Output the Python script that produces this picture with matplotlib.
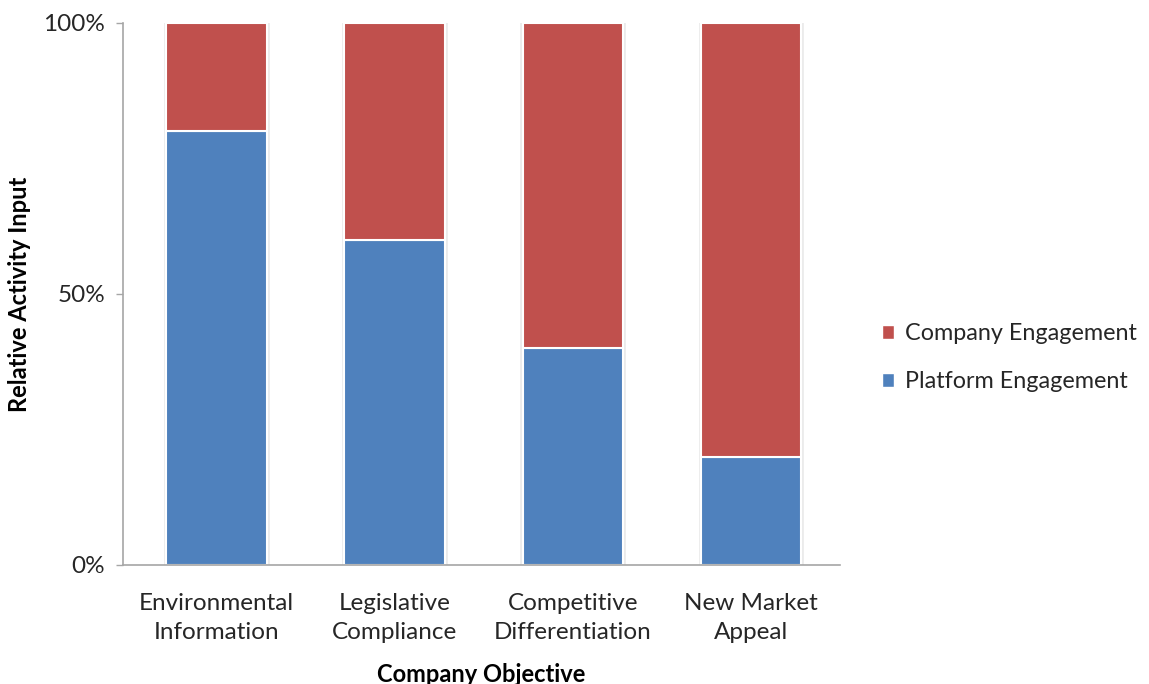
import matplotlib
matplotlib.use("Agg")
import matplotlib.pyplot as plt
from matplotlib.ticker import FixedLocator, FuncFormatter
from matplotlib.patches import Patch

plt.rcParams['font.family'] = ['Lato', 'DejaVu Sans']

categories = ["Environmental\nInformation", "Legislative\nCompliance",
              "Competitive\nDifferentiation", "New Market\nAppeal"]
platform = [80, 60, 40, 20]
company = [20, 40, 60, 80]

blue = "#4F81BD"
red = "#C0504D"
axis_grey = "#A6A6A6"
text_col = "#262626"

fig = plt.figure(figsize=(11.49, 6.84), dpi=100)
ax = fig.add_axes([0.1071, 0.174, 0.624, 0.7924])

x = list(range(len(categories)))
totals = [p + c for p, c in zip(platform, company)]
platform_pct = [p / t * 100 for p, t in zip(platform, totals)]
company_pct = [c / t * 100 for c, t in zip(company, totals)]

width = 0.565
# soft shadow behind each stacked column
ax.bar(x, [p + c for p, c in zip(platform_pct, company_pct)], width=width + 0.012,
       color="none", edgecolor="#EBEBEB", linewidth=2.0, zorder=1)
ax.bar(x, platform_pct, width=width, color=blue, edgecolor="white",
       linewidth=1.5, zorder=2, label="Platform Engagement")
ax.bar(x, company_pct, width=width, bottom=platform_pct, color=red,
       edgecolor="white", linewidth=1.5, zorder=2, label="Company Engagement")

ax.set_xlim(-0.525, 3.5)
ax.set_ylim(0, 100)
ax.yaxis.set_major_locator(FixedLocator([0, 50, 100]))
ax.yaxis.set_major_formatter(FuncFormatter(lambda v, _: f"{v:.0f}%"))
ax.set_xticks(x)
ax.set_xticklabels(categories, fontsize=17.5, color=text_col, linespacing=1.5)
ax.tick_params(axis="x", length=0, pad=20)
ax.tick_params(axis="y", length=5, width=1, color=axis_grey, labelsize=17.5,
               labelcolor=text_col, pad=8)

for side in ("top", "right"):
    ax.spines[side].set_visible(False)
for side in ("left", "bottom"):
    ax.spines[side].set_color(axis_grey)
    ax.spines[side].set_linewidth(1.2)

ax.set_ylabel("Relative Activity Input", fontsize=17, fontweight="bold",
              color="black", labelpad=9)
ax.set_xlabel("Company Objective", fontsize=17, fontweight="bold",
              color="black", labelpad=14)

handles = [Patch(facecolor=red, edgecolor="white", label="Company Engagement"),
           Patch(facecolor=blue, edgecolor="white", label="Platform Engagement")]
fig.legend(handles=handles, loc="center left", bbox_to_anchor=(0.749, 0.477),
           frameon=False, fontsize=16.8, handlelength=0.55, handleheight=0.55,
           handletextpad=0.45, labelspacing=1.15, labelcolor=text_col)

fig.savefig("out.png", dpi=100)
